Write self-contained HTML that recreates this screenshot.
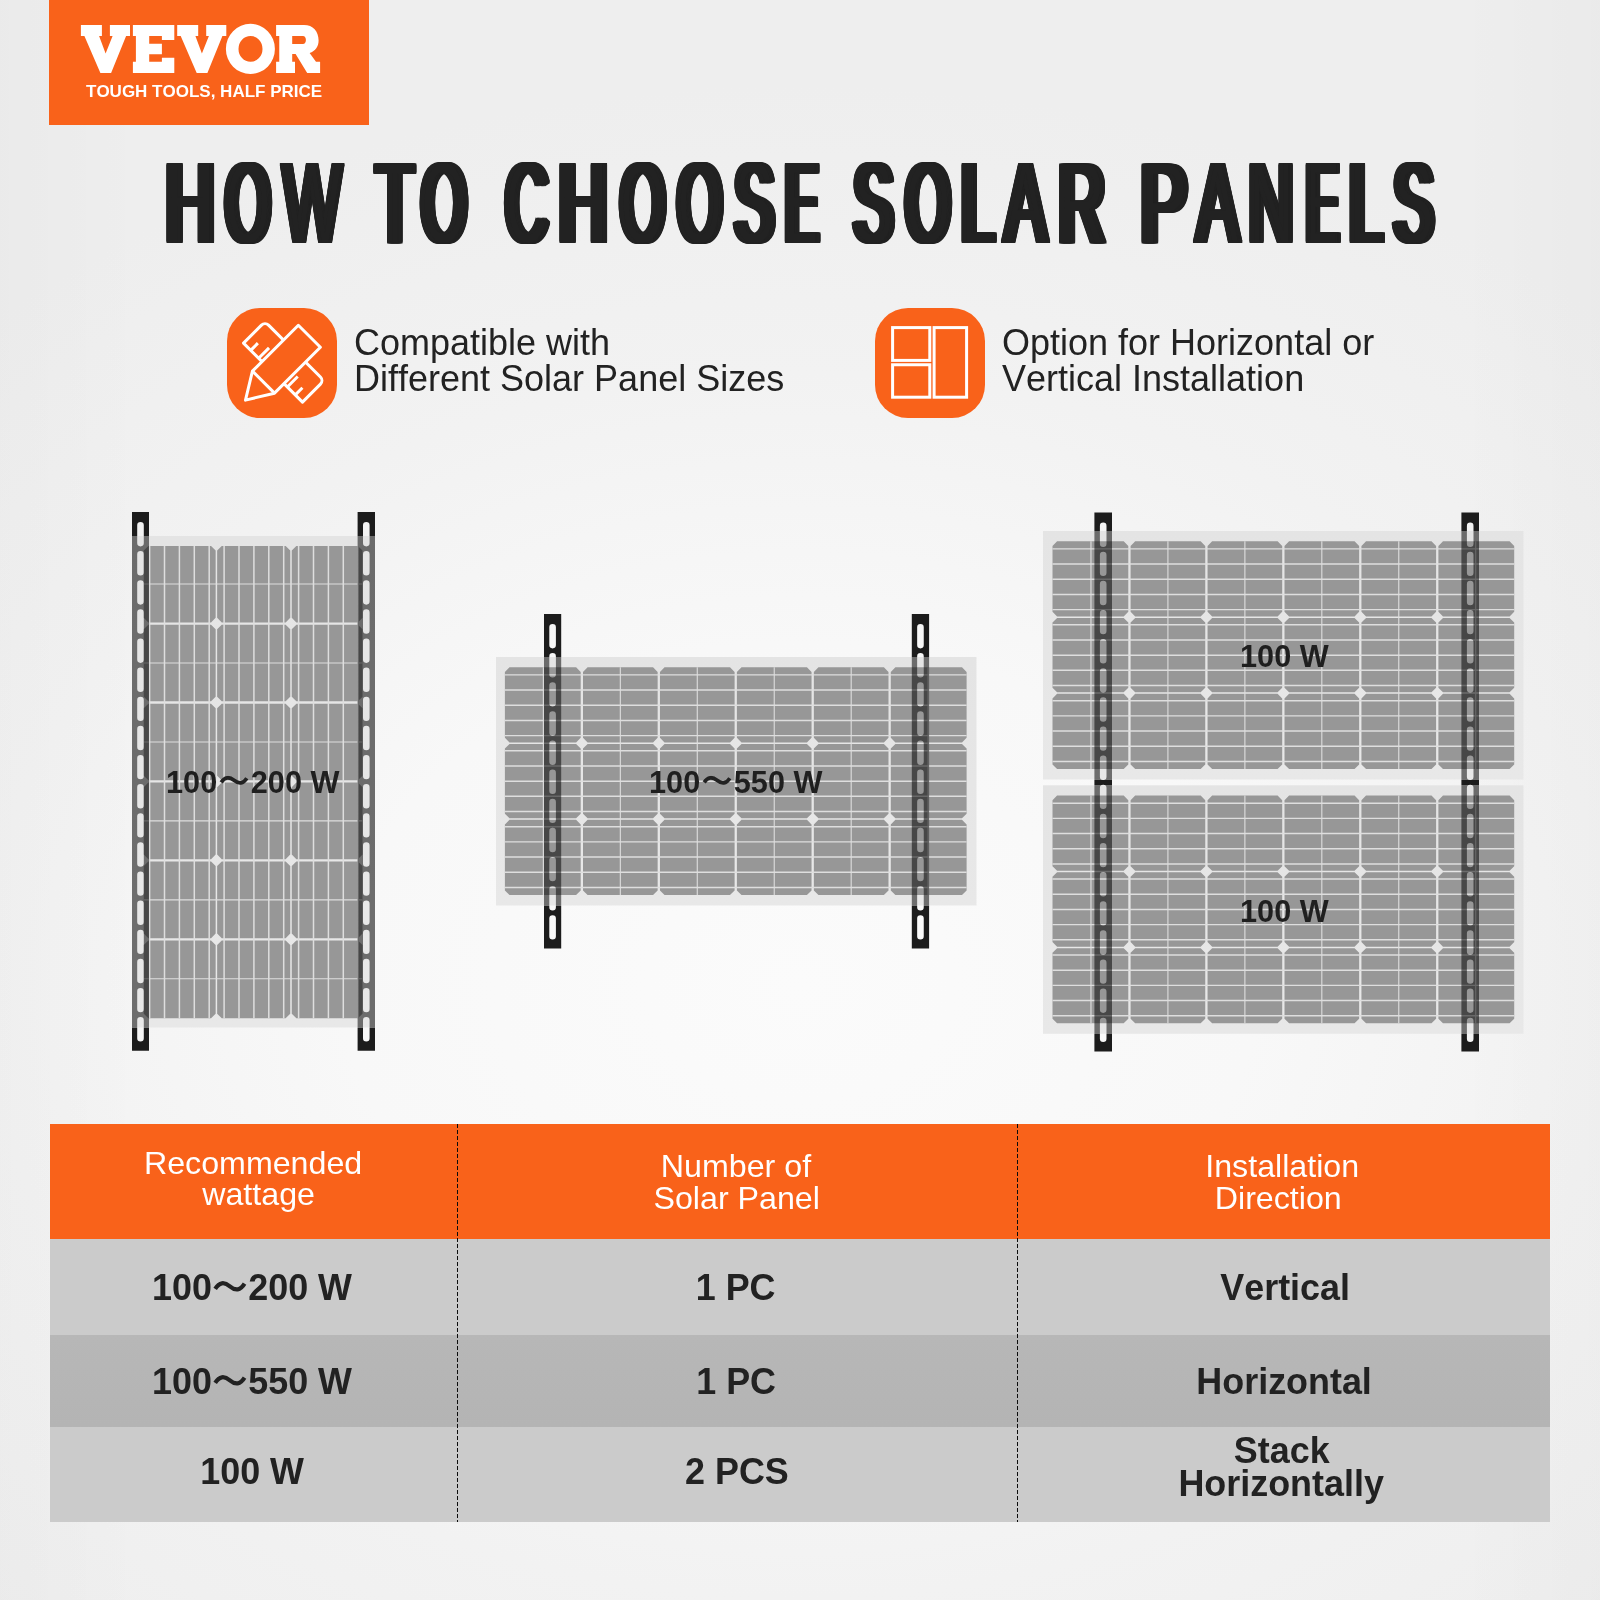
<!DOCTYPE html>
<html lang="en"><head><meta charset="utf-8"><title>How to choose solar panels</title>
<style>
*{box-sizing:border-box;margin:0;padding:0}
html,body{width:1600px;height:1600px;overflow:hidden}
body{position:relative;font-family:"Liberation Sans",sans-serif;color:#222;font-kerning:none;
 background:linear-gradient(to right,rgba(0,0,0,.016),rgba(0,0,0,0) 9%,rgba(0,0,0,0) 91%,rgba(0,0,0,.016)),radial-gradient(ellipse 1200px 900px at 800px 985px,#fbfbfb 0%,#f8f8f8 38%,#f2f2f2 68%,#eeeeee 100%)}
.logo{position:absolute;left:49px;top:0;width:320px;height:124.5px;background:#f9621a}
.logo svg{position:absolute;left:0;top:0}
.logo .tag{position:absolute;left:36.5px;top:82px;font-weight:bold;font-size:17px;line-height:20px;color:#fff;white-space:nowrap}
h1{position:absolute;left:0;top:0;width:1600px;height:0;font-weight:bold;font-size:117.4px;line-height:1;color:#222;white-space:pre}
h1 span{position:absolute;top:145.15px;transform-origin:0 0;display:block}
h1.t2{font-weight:normal;font-size:113.9px}
h1.t2 span{top:145.6px;text-shadow:calc(var(--k)*-1.000px) -1.00px 0 #222,calc(var(--k)*-1.000px) 0.00px 0 #222,calc(var(--k)*-1.000px) 1.00px 0 #222,calc(var(--k)*-0.750px) -1.00px 0 #222,calc(var(--k)*-0.750px) 0.00px 0 #222,calc(var(--k)*-0.750px) 1.00px 0 #222,calc(var(--k)*-0.500px) -1.00px 0 #222,calc(var(--k)*-0.500px) 0.00px 0 #222,calc(var(--k)*-0.500px) 1.00px 0 #222,calc(var(--k)*-0.250px) -1.00px 0 #222,calc(var(--k)*-0.250px) 0.00px 0 #222,calc(var(--k)*-0.250px) 1.00px 0 #222,calc(var(--k)*0.000px) -1.00px 0 #222,calc(var(--k)*0.000px) 1.00px 0 #222,calc(var(--k)*0.250px) -1.00px 0 #222,calc(var(--k)*0.250px) 0.00px 0 #222,calc(var(--k)*0.250px) 1.00px 0 #222,calc(var(--k)*0.500px) -1.00px 0 #222,calc(var(--k)*0.500px) 0.00px 0 #222,calc(var(--k)*0.500px) 1.00px 0 #222,calc(var(--k)*0.750px) -1.00px 0 #222,calc(var(--k)*0.750px) 0.00px 0 #222,calc(var(--k)*0.750px) 1.00px 0 #222,calc(var(--k)*1.000px) -1.00px 0 #222,calc(var(--k)*1.000px) 0.00px 0 #222,calc(var(--k)*1.000px) 1.00px 0 #222}
.feat{position:absolute;top:308px;height:110px}
.feat .ic{position:absolute;left:0;top:0;width:110px;height:110px;border-radius:33px;background:#f9621a}
.feat p{position:absolute;left:127.2px;top:17.75px;font-size:36px;line-height:34.95px;white-space:nowrap;color:#222;transform-origin:0 50%;transform:scaleY(1.03)}
.f1{left:227px}.f2{left:875px}
svg.diagram{position:absolute;left:0;top:0}
.feat p,.lbl,table,.logo .tag{will-change:transform}
.lbl{position:absolute;font-weight:bold;font-size:30.7px;line-height:36px;height:36px;white-space:nowrap;color:#1f1f1f;transform:scaleY(1.04);display:flex;align-items:center}
.tl{display:inline-block;flex:none}
table{position:absolute;left:50px;top:1123.8px;width:1500px;border-collapse:collapse;table-layout:fixed}
th{background:#f9621a;color:#fff;font-weight:normal;font-size:32.2px;line-height:32px;height:115.2px;text-align:center;vertical-align:middle;padding:0}
th span{display:block;position:relative}
td{font-weight:bold;font-size:35.9px;line-height:32.1px;text-align:center;vertical-align:middle;padding:0;color:#222}
tr.r1 td{height:95.4px;background:#cbcbcb}
tr.r2 td{height:92.2px;background:linear-gradient(#b7b7b7,#b4b4b4)}
tr.r3 td{height:95.4px;background:#cbcbcb}
.tb{display:inline-flex;align-items:center;position:relative;transform:scaleY(1.04)}
.tb.ml{display:inline-block}
.tb.ml span{display:block;position:relative}
.vline{position:absolute;top:1123.8px;height:398.2px;width:1.3px;background:repeating-linear-gradient(to bottom,#0c0c0c 0,#0c0c0c 3.7px,transparent 3.7px,transparent 6px)}
</style></head>
<body>
<div class="logo"><svg width="320" height="124.5" viewBox="49 0 320 124.5" role="img" aria-label="VEVOR">
<g fill="#fff">
<path id="lv" d="M80.9,24.9H101.9V36H99.1L105.6,53.4L112.6,36H109.9V24.9H130V36H126.1L111.1,73.1H100.4L84.4,36H80.9Z"/>
<path d="M132.9,24.9H174.3V40.1H161.9V36H149.2V43.7H161.9V54.2H149.2V61.7H161.9V57.75H174.3V73.1H132.9V61.7H135.9V36H132.9Z"/>
<use href="#lv" x="96.3"/>
<path fill-rule="evenodd" d="M250.4,23.8A24.5,25.1 0 1 0 250.4,74A24.5,25.1 0 1 0 250.4,23.8ZM250.5,36A12,12.9 0 1 1 250.5,61.8A12,12.9 0 1 1 250.5,36Z"/>
<path fill-rule="evenodd" d="M276.1,24.9H304C313,24.9 318.6,31 318.6,40.5C318.6,46.5 315.5,50.8 309.6,53.1L316,61.7H320.1V73.1H307.2L295.6,54H292.2V61.7H295V73.1H276.1V61.7H279.25V36H276.1ZM292.2,36H302.9C305,36 305.9,38 305.9,39.9C305.9,42 305,43.9 302.9,43.9H292.2Z"/>
</g></svg><div class="tag">TOUGH TOOLS, HALF PRICE</div></div>
<h1 class="t2"><span style="left:165.74px;transform:scaleX(0.5894);--k:8.483">H</span><span style="left:225.58px;transform:scaleX(0.4952);--k:10.097">O</span><span style="left:283.33px;transform:scaleX(0.5421);--k:6.640">W</span> <span style="left:376.94px;transform:scaleX(0.5124);--k:9.758">T</span><span style="left:422.31px;transform:scaleX(0.4984);--k:10.032">O</span> <span style="left:505.84px;transform:scaleX(0.5025);--k:9.949">C</span><span style="left:559.49px;transform:scaleX(0.5894);--k:8.483">H</span><span style="left:621.10px;transform:scaleX(0.4920);--k:10.163">O</span><span style="left:677.85px;transform:scaleX(0.4920);--k:10.163">O</span><span style="left:735.38px;transform:scaleX(0.5071);--k:9.860">S</span><span style="left:786.14px;transform:scaleX(0.4131);--k:12.104">E</span> <span style="left:854.36px;transform:scaleX(0.5109);--k:9.787">S</span><span style="left:905.58px;transform:scaleX(0.4952);--k:10.097">O</span><span style="left:962.35px;transform:scaleX(0.4978);--k:10.044">L</span><span style="left:1005.33px;transform:scaleX(0.5409);--k:7.765">A</span><span style="left:1059.32px;transform:scaleX(0.5545);--k:9.017">R</span> <span style="left:1141.34px;transform:scaleX(0.6062);--k:8.248">P</span><span style="left:1197.08px;transform:scaleX(0.5442);--k:7.718">A</span><span style="left:1249.38px;transform:scaleX(0.5375);--k:8.186">N</span><span style="left:1307.47px;transform:scaleX(0.4050);--k:12.347">E</span><span style="left:1349.55px;transform:scaleX(0.5028);--k:9.945">L</span><span style="left:1393.59px;transform:scaleX(0.5147);--k:9.714">S</span></h1>
<div class="feat f1"><div class="ic"><svg width="110" height="110" viewBox="227 308 110 110" aria-hidden="true">
<g transform="translate(283.75,361.85) rotate(45)" fill="#f9621a" stroke="#fff" stroke-width="3" stroke-linejoin="round" stroke-linecap="butt">
<path d="M-41.7,15.2V-10.2A5,5 0 0 1 -36.7,-15.2H36.7A5,5 0 0 1 41.7,-10.2V15.2Z"/>
<path d="M-31.5,15.2V5.1M31.5,15.2V5.1M-20.3,15.2V0.5M20.3,15.2V0.5" fill="none"/>
<path d="M-15.6,-36.2H15.6V28.7L0,54.1L-15.6,28.7Z"/>
<path d="M-15.6,28.7H15.6" fill="none"/>
</g></svg></div><p>Compatible with<br>Different Solar Panel Sizes</p></div>
<div class="feat f2"><div class="ic"><svg width="110" height="110" viewBox="875 308 110 110" aria-hidden="true">
<g fill="none" stroke="#fff" stroke-width="3">
<rect x="892.6" y="327.6" width="37.2" height="32.8"/>
<rect x="892.6" y="364.75" width="37.2" height="32.45"/>
<rect x="934.1" y="327.6" width="32.5" height="69.6"/>
</g></svg></div><p>Option for Horizontal or<br>Vertical Installation</p></div>
<svg class="diagram" width="1600" height="1600" viewBox="0 0 1600 1600"><defs><linearGradient id="frameg" x1="0" y1="0" x2="0" y2="1"><stop offset="0" stop-color="#e4e4e4"/><stop offset="1" stop-color="#e8e8e8"/></linearGradient><linearGradient id="b1" gradientUnits="userSpaceOnUse" x1="0" y1="512" x2="0" y2="1050.8"><stop offset="0.00000" stop-color="#1c1c1c" stop-opacity="1"/><stop offset="0.04454" stop-color="#1c1c1c" stop-opacity="1"/><stop offset="0.04454" stop-color="#000" stop-opacity="0.53"/><stop offset="0.95676" stop-color="#000" stop-opacity="0.53"/><stop offset="0.95676" stop-color="#1c1c1c" stop-opacity="1"/><stop offset="1.00000" stop-color="#1c1c1c" stop-opacity="1"/></linearGradient><linearGradient id="b2" gradientUnits="userSpaceOnUse" x1="0" y1="512" x2="0" y2="1050.8"><stop offset="0.00000" stop-color="#1c1c1c" stop-opacity="1"/><stop offset="0.04454" stop-color="#1c1c1c" stop-opacity="1"/><stop offset="0.04454" stop-color="#000" stop-opacity="0.53"/><stop offset="0.95676" stop-color="#000" stop-opacity="0.53"/><stop offset="0.95676" stop-color="#1c1c1c" stop-opacity="1"/><stop offset="1.00000" stop-color="#1c1c1c" stop-opacity="1"/></linearGradient><linearGradient id="b3" gradientUnits="userSpaceOnUse" x1="0" y1="614" x2="0" y2="948.6"><stop offset="0.00000" stop-color="#1c1c1c" stop-opacity="1"/><stop offset="0.12851" stop-color="#1c1c1c" stop-opacity="1"/><stop offset="0.12851" stop-color="#000" stop-opacity="0.53"/><stop offset="0.87119" stop-color="#000" stop-opacity="0.53"/><stop offset="0.87119" stop-color="#1c1c1c" stop-opacity="1"/><stop offset="1.00000" stop-color="#1c1c1c" stop-opacity="1"/></linearGradient><linearGradient id="b4" gradientUnits="userSpaceOnUse" x1="0" y1="614" x2="0" y2="948.6"><stop offset="0.00000" stop-color="#1c1c1c" stop-opacity="1"/><stop offset="0.12851" stop-color="#1c1c1c" stop-opacity="1"/><stop offset="0.12851" stop-color="#000" stop-opacity="0.53"/><stop offset="0.87119" stop-color="#000" stop-opacity="0.53"/><stop offset="0.87119" stop-color="#1c1c1c" stop-opacity="1"/><stop offset="1.00000" stop-color="#1c1c1c" stop-opacity="1"/></linearGradient><linearGradient id="b5" gradientUnits="userSpaceOnUse" x1="0" y1="512.6" x2="0" y2="1051.6"><stop offset="0.00000" stop-color="#1c1c1c" stop-opacity="1"/><stop offset="0.03414" stop-color="#1c1c1c" stop-opacity="1"/><stop offset="0.03414" stop-color="#000" stop-opacity="0.53"/><stop offset="0.49518" stop-color="#000" stop-opacity="0.53"/><stop offset="0.49518" stop-color="#1c1c1c" stop-opacity="1"/><stop offset="0.50594" stop-color="#1c1c1c" stop-opacity="1"/><stop offset="0.50594" stop-color="#000" stop-opacity="0.53"/><stop offset="0.96698" stop-color="#000" stop-opacity="0.53"/><stop offset="0.96698" stop-color="#1c1c1c" stop-opacity="1"/><stop offset="1.00000" stop-color="#1c1c1c" stop-opacity="1"/></linearGradient><linearGradient id="b6" gradientUnits="userSpaceOnUse" x1="0" y1="512.6" x2="0" y2="1051.6"><stop offset="0.00000" stop-color="#1c1c1c" stop-opacity="1"/><stop offset="0.03414" stop-color="#1c1c1c" stop-opacity="1"/><stop offset="0.03414" stop-color="#000" stop-opacity="0.53"/><stop offset="0.49518" stop-color="#000" stop-opacity="0.53"/><stop offset="0.49518" stop-color="#1c1c1c" stop-opacity="1"/><stop offset="0.50594" stop-color="#1c1c1c" stop-opacity="1"/><stop offset="0.50594" stop-color="#000" stop-opacity="0.53"/><stop offset="0.96698" stop-color="#000" stop-opacity="0.53"/><stop offset="0.96698" stop-color="#1c1c1c" stop-opacity="1"/><stop offset="1.00000" stop-color="#1c1c1c" stop-opacity="1"/></linearGradient></defs>
<rect x="132" y="536" width="243" height="491.5" fill="url(#frameg)"/>
<path d="M148.35,546.00 L211.05,546.00 L215.65,550.60 L215.65,617.79 L211.05,622.39 L148.35,622.39 L143.75,617.79 L143.75,550.60ZM148.35,624.69 L211.05,624.69 L215.65,629.29 L215.65,696.73 L211.05,701.33 L148.35,701.33 L143.75,696.73 L143.75,629.29ZM148.35,703.63 L211.05,703.63 L215.65,708.23 L215.65,775.67 L211.05,780.27 L148.35,780.27 L143.75,775.67 L143.75,708.23ZM148.35,782.57 L211.05,782.57 L215.65,787.17 L215.65,854.61 L211.05,859.21 L148.35,859.21 L143.75,854.61 L143.75,787.17ZM148.35,861.51 L211.05,861.51 L215.65,866.11 L215.65,933.55 L211.05,938.15 L148.35,938.15 L143.75,933.55 L143.75,866.11ZM148.35,940.45 L211.05,940.45 L215.65,945.05 L215.65,1013.64 L211.05,1018.24 L148.35,1018.24 L143.75,1013.64 L143.75,945.05ZM221.75,546.00 L285.65,546.00 L290.25,550.60 L290.25,617.79 L285.65,622.39 L221.75,622.39 L217.15,617.79 L217.15,550.60ZM221.75,624.69 L285.65,624.69 L290.25,629.29 L290.25,696.73 L285.65,701.33 L221.75,701.33 L217.15,696.73 L217.15,629.29ZM221.75,703.63 L285.65,703.63 L290.25,708.23 L290.25,775.67 L285.65,780.27 L221.75,780.27 L217.15,775.67 L217.15,708.23ZM221.75,782.57 L285.65,782.57 L290.25,787.17 L290.25,854.61 L285.65,859.21 L221.75,859.21 L217.15,854.61 L217.15,787.17ZM221.75,861.51 L285.65,861.51 L290.25,866.11 L290.25,933.55 L285.65,938.15 L221.75,938.15 L217.15,933.55 L217.15,866.11ZM221.75,940.45 L285.65,940.45 L290.25,945.05 L290.25,1013.64 L285.65,1018.24 L221.75,1018.24 L217.15,1013.64 L217.15,945.05ZM296.35,546.00 L357.90,546.00 L362.50,550.60 L362.50,617.79 L357.90,622.39 L296.35,622.39 L291.75,617.79 L291.75,550.60ZM296.35,624.69 L357.90,624.69 L362.50,629.29 L362.50,696.73 L357.90,701.33 L296.35,701.33 L291.75,696.73 L291.75,629.29ZM296.35,703.63 L357.90,703.63 L362.50,708.23 L362.50,775.67 L357.90,780.27 L296.35,780.27 L291.75,775.67 L291.75,708.23ZM296.35,782.57 L357.90,782.57 L362.50,787.17 L362.50,854.61 L357.90,859.21 L296.35,859.21 L291.75,854.61 L291.75,787.17ZM296.35,861.51 L357.90,861.51 L362.50,866.11 L362.50,933.55 L357.90,938.15 L296.35,938.15 L291.75,933.55 L291.75,866.11ZM296.35,940.45 L357.90,940.45 L362.50,945.05 L362.50,1013.64 L357.90,1018.24 L296.35,1018.24 L291.75,1013.64 L291.75,945.05Z" fill="#979797"/>
<path d="M149.60,546.00V1018.24M164.50,546.00V1018.24M179.40,546.00V1018.24M194.30,546.00V1018.24M209.20,546.00V1018.24M224.10,546.00V1018.24M239.00,546.00V1018.24M253.90,546.00V1018.24M268.80,546.00V1018.24M283.70,546.00V1018.24M298.60,546.00V1018.24M313.50,546.00V1018.24M328.40,546.00V1018.24M343.30,546.00V1018.24M358.20,546.00V1018.24" stroke="#dedede" stroke-width="1.5" fill="none"/>
<path d="M143.75,584.07H362.50M143.75,663.01H362.50M143.75,741.95H362.50M143.75,820.89H362.50M143.75,899.83H362.50M143.75,978.77H362.50" stroke="#dedede" stroke-width="1.1" fill="none"/>
<rect x="496" y="657" width="480.5" height="248.5" fill="url(#frameg)"/>
<path d="M509.50,667.30 L576.10,667.30 L580.70,671.90 L580.70,737.85 L576.10,742.45 L509.50,742.45 L504.90,737.85 L504.90,671.90ZM509.50,743.95 L576.10,743.95 L580.70,748.55 L580.70,813.75 L576.10,818.35 L509.50,818.35 L504.90,813.75 L504.90,748.55ZM509.50,819.85 L576.10,819.85 L580.70,824.45 L580.70,890.40 L576.10,895.00 L509.50,895.00 L504.90,890.40 L504.90,824.45ZM587.60,667.30 L653.05,667.30 L657.65,671.90 L657.65,737.85 L653.05,742.45 L587.60,742.45 L583.00,737.85 L583.00,671.90ZM587.60,743.95 L653.05,743.95 L657.65,748.55 L657.65,813.75 L653.05,818.35 L587.60,818.35 L583.00,813.75 L583.00,748.55ZM587.60,819.85 L653.05,819.85 L657.65,824.45 L657.65,890.40 L653.05,895.00 L587.60,895.00 L583.00,890.40 L583.00,824.45ZM664.55,667.30 L730.00,667.30 L734.60,671.90 L734.60,737.85 L730.00,742.45 L664.55,742.45 L659.95,737.85 L659.95,671.90ZM664.55,743.95 L730.00,743.95 L734.60,748.55 L734.60,813.75 L730.00,818.35 L664.55,818.35 L659.95,813.75 L659.95,748.55ZM664.55,819.85 L730.00,819.85 L734.60,824.45 L734.60,890.40 L730.00,895.00 L664.55,895.00 L659.95,890.40 L659.95,824.45ZM741.50,667.30 L806.95,667.30 L811.55,671.90 L811.55,737.85 L806.95,742.45 L741.50,742.45 L736.90,737.85 L736.90,671.90ZM741.50,743.95 L806.95,743.95 L811.55,748.55 L811.55,813.75 L806.95,818.35 L741.50,818.35 L736.90,813.75 L736.90,748.55ZM741.50,819.85 L806.95,819.85 L811.55,824.45 L811.55,890.40 L806.95,895.00 L741.50,895.00 L736.90,890.40 L736.90,824.45ZM818.45,667.30 L883.90,667.30 L888.50,671.90 L888.50,737.85 L883.90,742.45 L818.45,742.45 L813.85,737.85 L813.85,671.90ZM818.45,743.95 L883.90,743.95 L888.50,748.55 L888.50,813.75 L883.90,818.35 L818.45,818.35 L813.85,813.75 L813.85,748.55ZM818.45,819.85 L883.90,819.85 L888.50,824.45 L888.50,890.40 L883.90,895.00 L818.45,895.00 L813.85,890.40 L813.85,824.45ZM895.40,667.30 L962.00,667.30 L966.60,671.90 L966.60,737.85 L962.00,742.45 L895.40,742.45 L890.80,737.85 L890.80,671.90ZM895.40,743.95 L962.00,743.95 L966.60,748.55 L966.60,813.75 L962.00,818.35 L895.40,818.35 L890.80,813.75 L890.80,748.55ZM895.40,819.85 L962.00,819.85 L966.60,824.45 L966.60,890.40 L962.00,895.00 L895.40,895.00 L890.80,890.40 L890.80,824.45Z" fill="#979797"/>
<path d="M504.90,674.89H966.60M504.90,690.07H966.60M504.90,705.25H966.60M504.90,720.43H966.60M504.90,735.61H966.60M504.90,750.79H966.60M504.90,765.97H966.60M504.90,781.15H966.60M504.90,796.33H966.60M504.90,811.51H966.60M504.90,826.69H966.60M504.90,841.87H966.60M504.90,857.05H966.60M504.90,872.23H966.60M504.90,887.41H966.60" stroke="#dedede" stroke-width="1.45" fill="none"/>
<path d="M543.38,667.30V895.00M620.33,667.30V895.00M697.27,667.30V895.00M774.23,667.30V895.00M851.18,667.30V895.00M928.12,667.30V895.00" stroke="#dedede" stroke-width="1.1" fill="none"/>
<rect x="1043" y="531" width="480.5" height="248.5" fill="url(#frameg)"/>
<path d="M1057.10,541.30 L1123.70,541.30 L1128.30,545.90 L1128.30,611.85 L1123.70,616.45 L1057.10,616.45 L1052.50,611.85 L1052.50,545.90ZM1057.10,617.95 L1123.70,617.95 L1128.30,622.55 L1128.30,687.75 L1123.70,692.35 L1057.10,692.35 L1052.50,687.75 L1052.50,622.55ZM1057.10,693.85 L1123.70,693.85 L1128.30,698.45 L1128.30,764.40 L1123.70,769.00 L1057.10,769.00 L1052.50,764.40 L1052.50,698.45ZM1135.20,541.30 L1200.65,541.30 L1205.25,545.90 L1205.25,611.85 L1200.65,616.45 L1135.20,616.45 L1130.60,611.85 L1130.60,545.90ZM1135.20,617.95 L1200.65,617.95 L1205.25,622.55 L1205.25,687.75 L1200.65,692.35 L1135.20,692.35 L1130.60,687.75 L1130.60,622.55ZM1135.20,693.85 L1200.65,693.85 L1205.25,698.45 L1205.25,764.40 L1200.65,769.00 L1135.20,769.00 L1130.60,764.40 L1130.60,698.45ZM1212.15,541.30 L1277.60,541.30 L1282.20,545.90 L1282.20,611.85 L1277.60,616.45 L1212.15,616.45 L1207.55,611.85 L1207.55,545.90ZM1212.15,617.95 L1277.60,617.95 L1282.20,622.55 L1282.20,687.75 L1277.60,692.35 L1212.15,692.35 L1207.55,687.75 L1207.55,622.55ZM1212.15,693.85 L1277.60,693.85 L1282.20,698.45 L1282.20,764.40 L1277.60,769.00 L1212.15,769.00 L1207.55,764.40 L1207.55,698.45ZM1289.10,541.30 L1354.55,541.30 L1359.15,545.90 L1359.15,611.85 L1354.55,616.45 L1289.10,616.45 L1284.50,611.85 L1284.50,545.90ZM1289.10,617.95 L1354.55,617.95 L1359.15,622.55 L1359.15,687.75 L1354.55,692.35 L1289.10,692.35 L1284.50,687.75 L1284.50,622.55ZM1289.10,693.85 L1354.55,693.85 L1359.15,698.45 L1359.15,764.40 L1354.55,769.00 L1289.10,769.00 L1284.50,764.40 L1284.50,698.45ZM1366.05,541.30 L1431.50,541.30 L1436.10,545.90 L1436.10,611.85 L1431.50,616.45 L1366.05,616.45 L1361.45,611.85 L1361.45,545.90ZM1366.05,617.95 L1431.50,617.95 L1436.10,622.55 L1436.10,687.75 L1431.50,692.35 L1366.05,692.35 L1361.45,687.75 L1361.45,622.55ZM1366.05,693.85 L1431.50,693.85 L1436.10,698.45 L1436.10,764.40 L1431.50,769.00 L1366.05,769.00 L1361.45,764.40 L1361.45,698.45ZM1443.00,541.30 L1509.60,541.30 L1514.20,545.90 L1514.20,611.85 L1509.60,616.45 L1443.00,616.45 L1438.40,611.85 L1438.40,545.90ZM1443.00,617.95 L1509.60,617.95 L1514.20,622.55 L1514.20,687.75 L1509.60,692.35 L1443.00,692.35 L1438.40,687.75 L1438.40,622.55ZM1443.00,693.85 L1509.60,693.85 L1514.20,698.45 L1514.20,764.40 L1509.60,769.00 L1443.00,769.00 L1438.40,764.40 L1438.40,698.45Z" fill="#979797"/>
<path d="M1052.50,548.89H1514.20M1052.50,564.07H1514.20M1052.50,579.25H1514.20M1052.50,594.43H1514.20M1052.50,609.61H1514.20M1052.50,624.79H1514.20M1052.50,639.97H1514.20M1052.50,655.15H1514.20M1052.50,670.33H1514.20M1052.50,685.51H1514.20M1052.50,700.69H1514.20M1052.50,715.87H1514.20M1052.50,731.05H1514.20M1052.50,746.23H1514.20M1052.50,761.41H1514.20" stroke="#dedede" stroke-width="1.45" fill="none"/>
<path d="M1090.97,541.30V769.00M1167.92,541.30V769.00M1244.88,541.30V769.00M1321.82,541.30V769.00M1398.77,541.30V769.00M1475.72,541.30V769.00" stroke="#dedede" stroke-width="1.1" fill="none"/>
<rect x="1043" y="785.3" width="480.5" height="248.5" fill="url(#frameg)"/>
<path d="M1057.10,795.60 L1123.70,795.60 L1128.30,800.20 L1128.30,866.15 L1123.70,870.75 L1057.10,870.75 L1052.50,866.15 L1052.50,800.20ZM1057.10,872.25 L1123.70,872.25 L1128.30,876.85 L1128.30,942.05 L1123.70,946.65 L1057.10,946.65 L1052.50,942.05 L1052.50,876.85ZM1057.10,948.15 L1123.70,948.15 L1128.30,952.75 L1128.30,1018.70 L1123.70,1023.30 L1057.10,1023.30 L1052.50,1018.70 L1052.50,952.75ZM1135.20,795.60 L1200.65,795.60 L1205.25,800.20 L1205.25,866.15 L1200.65,870.75 L1135.20,870.75 L1130.60,866.15 L1130.60,800.20ZM1135.20,872.25 L1200.65,872.25 L1205.25,876.85 L1205.25,942.05 L1200.65,946.65 L1135.20,946.65 L1130.60,942.05 L1130.60,876.85ZM1135.20,948.15 L1200.65,948.15 L1205.25,952.75 L1205.25,1018.70 L1200.65,1023.30 L1135.20,1023.30 L1130.60,1018.70 L1130.60,952.75ZM1212.15,795.60 L1277.60,795.60 L1282.20,800.20 L1282.20,866.15 L1277.60,870.75 L1212.15,870.75 L1207.55,866.15 L1207.55,800.20ZM1212.15,872.25 L1277.60,872.25 L1282.20,876.85 L1282.20,942.05 L1277.60,946.65 L1212.15,946.65 L1207.55,942.05 L1207.55,876.85ZM1212.15,948.15 L1277.60,948.15 L1282.20,952.75 L1282.20,1018.70 L1277.60,1023.30 L1212.15,1023.30 L1207.55,1018.70 L1207.55,952.75ZM1289.10,795.60 L1354.55,795.60 L1359.15,800.20 L1359.15,866.15 L1354.55,870.75 L1289.10,870.75 L1284.50,866.15 L1284.50,800.20ZM1289.10,872.25 L1354.55,872.25 L1359.15,876.85 L1359.15,942.05 L1354.55,946.65 L1289.10,946.65 L1284.50,942.05 L1284.50,876.85ZM1289.10,948.15 L1354.55,948.15 L1359.15,952.75 L1359.15,1018.70 L1354.55,1023.30 L1289.10,1023.30 L1284.50,1018.70 L1284.50,952.75ZM1366.05,795.60 L1431.50,795.60 L1436.10,800.20 L1436.10,866.15 L1431.50,870.75 L1366.05,870.75 L1361.45,866.15 L1361.45,800.20ZM1366.05,872.25 L1431.50,872.25 L1436.10,876.85 L1436.10,942.05 L1431.50,946.65 L1366.05,946.65 L1361.45,942.05 L1361.45,876.85ZM1366.05,948.15 L1431.50,948.15 L1436.10,952.75 L1436.10,1018.70 L1431.50,1023.30 L1366.05,1023.30 L1361.45,1018.70 L1361.45,952.75ZM1443.00,795.60 L1509.60,795.60 L1514.20,800.20 L1514.20,866.15 L1509.60,870.75 L1443.00,870.75 L1438.40,866.15 L1438.40,800.20ZM1443.00,872.25 L1509.60,872.25 L1514.20,876.85 L1514.20,942.05 L1509.60,946.65 L1443.00,946.65 L1438.40,942.05 L1438.40,876.85ZM1443.00,948.15 L1509.60,948.15 L1514.20,952.75 L1514.20,1018.70 L1509.60,1023.30 L1443.00,1023.30 L1438.40,1018.70 L1438.40,952.75Z" fill="#979797"/>
<path d="M1052.50,803.19H1514.20M1052.50,818.37H1514.20M1052.50,833.55H1514.20M1052.50,848.73H1514.20M1052.50,863.91H1514.20M1052.50,879.09H1514.20M1052.50,894.27H1514.20M1052.50,909.45H1514.20M1052.50,924.63H1514.20M1052.50,939.81H1514.20M1052.50,954.99H1514.20M1052.50,970.17H1514.20M1052.50,985.35H1514.20M1052.50,1000.53H1514.20M1052.50,1015.71H1514.20" stroke="#dedede" stroke-width="1.45" fill="none"/>
<path d="M1090.97,795.60V1023.30M1167.92,795.60V1023.30M1244.88,795.60V1023.30M1321.82,795.60V1023.30M1398.77,795.60V1023.30M1475.72,795.60V1023.30" stroke="#dedede" stroke-width="1.1" fill="none"/>
<path d="M132.00,512.00H149.00V1050.80H132.00ZM137.20,525.30A3.30,3.30 0 0 1 143.80,525.30V543.10A3.30,3.30 0 0 1 137.20,543.10ZM137.20,554.42A3.30,3.30 0 0 1 143.80,554.42V572.22A3.30,3.30 0 0 1 137.20,572.22ZM137.20,583.54A3.30,3.30 0 0 1 143.80,583.54V601.34A3.30,3.30 0 0 1 137.20,601.34ZM137.20,612.66A3.30,3.30 0 0 1 143.80,612.66V630.46A3.30,3.30 0 0 1 137.20,630.46ZM137.20,641.78A3.30,3.30 0 0 1 143.80,641.78V659.58A3.30,3.30 0 0 1 137.20,659.58ZM137.20,670.90A3.30,3.30 0 0 1 143.80,670.90V688.70A3.30,3.30 0 0 1 137.20,688.70ZM137.20,700.02A3.30,3.30 0 0 1 143.80,700.02V717.82A3.30,3.30 0 0 1 137.20,717.82ZM137.20,729.14A3.30,3.30 0 0 1 143.80,729.14V746.94A3.30,3.30 0 0 1 137.20,746.94ZM137.20,758.26A3.30,3.30 0 0 1 143.80,758.26V776.06A3.30,3.30 0 0 1 137.20,776.06ZM137.20,787.38A3.30,3.30 0 0 1 143.80,787.38V805.18A3.30,3.30 0 0 1 137.20,805.18ZM137.20,816.50A3.30,3.30 0 0 1 143.80,816.50V834.30A3.30,3.30 0 0 1 137.20,834.30ZM137.20,845.62A3.30,3.30 0 0 1 143.80,845.62V863.42A3.30,3.30 0 0 1 137.20,863.42ZM137.20,874.74A3.30,3.30 0 0 1 143.80,874.74V892.54A3.30,3.30 0 0 1 137.20,892.54ZM137.20,903.86A3.30,3.30 0 0 1 143.80,903.86V921.66A3.30,3.30 0 0 1 137.20,921.66ZM137.20,932.98A3.30,3.30 0 0 1 143.80,932.98V950.78A3.30,3.30 0 0 1 137.20,950.78ZM137.20,962.10A3.30,3.30 0 0 1 143.80,962.10V979.90A3.30,3.30 0 0 1 137.20,979.90ZM137.20,991.22A3.30,3.30 0 0 1 143.80,991.22V1009.02A3.30,3.30 0 0 1 137.20,1009.02ZM137.20,1020.34A3.30,3.30 0 0 1 143.80,1020.34V1038.14A3.30,3.30 0 0 1 137.20,1038.14Z" fill="url(#b1)" fill-rule="evenodd"/>
<path d="M357.60,512.00H375.00V1050.80H357.60ZM363.00,525.30A3.30,3.30 0 0 1 369.60,525.30V543.10A3.30,3.30 0 0 1 363.00,543.10ZM363.00,554.42A3.30,3.30 0 0 1 369.60,554.42V572.22A3.30,3.30 0 0 1 363.00,572.22ZM363.00,583.54A3.30,3.30 0 0 1 369.60,583.54V601.34A3.30,3.30 0 0 1 363.00,601.34ZM363.00,612.66A3.30,3.30 0 0 1 369.60,612.66V630.46A3.30,3.30 0 0 1 363.00,630.46ZM363.00,641.78A3.30,3.30 0 0 1 369.60,641.78V659.58A3.30,3.30 0 0 1 363.00,659.58ZM363.00,670.90A3.30,3.30 0 0 1 369.60,670.90V688.70A3.30,3.30 0 0 1 363.00,688.70ZM363.00,700.02A3.30,3.30 0 0 1 369.60,700.02V717.82A3.30,3.30 0 0 1 363.00,717.82ZM363.00,729.14A3.30,3.30 0 0 1 369.60,729.14V746.94A3.30,3.30 0 0 1 363.00,746.94ZM363.00,758.26A3.30,3.30 0 0 1 369.60,758.26V776.06A3.30,3.30 0 0 1 363.00,776.06ZM363.00,787.38A3.30,3.30 0 0 1 369.60,787.38V805.18A3.30,3.30 0 0 1 363.00,805.18ZM363.00,816.50A3.30,3.30 0 0 1 369.60,816.50V834.30A3.30,3.30 0 0 1 363.00,834.30ZM363.00,845.62A3.30,3.30 0 0 1 369.60,845.62V863.42A3.30,3.30 0 0 1 363.00,863.42ZM363.00,874.74A3.30,3.30 0 0 1 369.60,874.74V892.54A3.30,3.30 0 0 1 363.00,892.54ZM363.00,903.86A3.30,3.30 0 0 1 369.60,903.86V921.66A3.30,3.30 0 0 1 363.00,921.66ZM363.00,932.98A3.30,3.30 0 0 1 369.60,932.98V950.78A3.30,3.30 0 0 1 363.00,950.78ZM363.00,962.10A3.30,3.30 0 0 1 369.60,962.10V979.90A3.30,3.30 0 0 1 363.00,979.90ZM363.00,991.22A3.30,3.30 0 0 1 369.60,991.22V1009.02A3.30,3.30 0 0 1 363.00,1009.02ZM363.00,1020.34A3.30,3.30 0 0 1 369.60,1020.34V1038.14A3.30,3.30 0 0 1 363.00,1038.14Z" fill="url(#b2)" fill-rule="evenodd"/>
<path d="M544.00,614.00H561.20V948.60H544.00ZM549.30,627.30A3.30,3.30 0 0 1 555.90,627.30V645.10A3.30,3.30 0 0 1 549.30,645.10ZM549.30,656.42A3.30,3.30 0 0 1 555.90,656.42V674.22A3.30,3.30 0 0 1 549.30,674.22ZM549.30,685.54A3.30,3.30 0 0 1 555.90,685.54V703.34A3.30,3.30 0 0 1 549.30,703.34ZM549.30,714.66A3.30,3.30 0 0 1 555.90,714.66V732.46A3.30,3.30 0 0 1 549.30,732.46ZM549.30,743.78A3.30,3.30 0 0 1 555.90,743.78V761.58A3.30,3.30 0 0 1 549.30,761.58ZM549.30,772.90A3.30,3.30 0 0 1 555.90,772.90V790.70A3.30,3.30 0 0 1 549.30,790.70ZM549.30,802.02A3.30,3.30 0 0 1 555.90,802.02V819.82A3.30,3.30 0 0 1 549.30,819.82ZM549.30,831.14A3.30,3.30 0 0 1 555.90,831.14V848.94A3.30,3.30 0 0 1 549.30,848.94ZM549.30,860.26A3.30,3.30 0 0 1 555.90,860.26V878.06A3.30,3.30 0 0 1 549.30,878.06ZM549.30,889.38A3.30,3.30 0 0 1 555.90,889.38V907.18A3.30,3.30 0 0 1 549.30,907.18ZM549.30,918.50A3.30,3.30 0 0 1 555.90,918.50V936.30A3.30,3.30 0 0 1 549.30,936.30Z" fill="url(#b3)" fill-rule="evenodd"/>
<path d="M911.80,614.00H929.10V948.60H911.80ZM917.15,627.30A3.30,3.30 0 0 1 923.75,627.30V645.10A3.30,3.30 0 0 1 917.15,645.10ZM917.15,656.42A3.30,3.30 0 0 1 923.75,656.42V674.22A3.30,3.30 0 0 1 917.15,674.22ZM917.15,685.54A3.30,3.30 0 0 1 923.75,685.54V703.34A3.30,3.30 0 0 1 917.15,703.34ZM917.15,714.66A3.30,3.30 0 0 1 923.75,714.66V732.46A3.30,3.30 0 0 1 917.15,732.46ZM917.15,743.78A3.30,3.30 0 0 1 923.75,743.78V761.58A3.30,3.30 0 0 1 917.15,761.58ZM917.15,772.90A3.30,3.30 0 0 1 923.75,772.90V790.70A3.30,3.30 0 0 1 917.15,790.70ZM917.15,802.02A3.30,3.30 0 0 1 923.75,802.02V819.82A3.30,3.30 0 0 1 917.15,819.82ZM917.15,831.14A3.30,3.30 0 0 1 923.75,831.14V848.94A3.30,3.30 0 0 1 917.15,848.94ZM917.15,860.26A3.30,3.30 0 0 1 923.75,860.26V878.06A3.30,3.30 0 0 1 917.15,878.06ZM917.15,889.38A3.30,3.30 0 0 1 923.75,889.38V907.18A3.30,3.30 0 0 1 917.15,907.18ZM917.15,918.50A3.30,3.30 0 0 1 923.75,918.50V936.30A3.30,3.30 0 0 1 917.15,936.30Z" fill="url(#b4)" fill-rule="evenodd"/>
<path d="M1094.40,512.60H1112.00V1051.60H1094.40ZM1099.90,525.90A3.30,3.30 0 0 1 1106.50,525.90V543.70A3.30,3.30 0 0 1 1099.90,543.70ZM1099.90,555.02A3.30,3.30 0 0 1 1106.50,555.02V572.82A3.30,3.30 0 0 1 1099.90,572.82ZM1099.90,584.14A3.30,3.30 0 0 1 1106.50,584.14V601.94A3.30,3.30 0 0 1 1099.90,601.94ZM1099.90,613.26A3.30,3.30 0 0 1 1106.50,613.26V631.06A3.30,3.30 0 0 1 1099.90,631.06ZM1099.90,642.38A3.30,3.30 0 0 1 1106.50,642.38V660.18A3.30,3.30 0 0 1 1099.90,660.18ZM1099.90,671.50A3.30,3.30 0 0 1 1106.50,671.50V689.30A3.30,3.30 0 0 1 1099.90,689.30ZM1099.90,700.62A3.30,3.30 0 0 1 1106.50,700.62V718.42A3.30,3.30 0 0 1 1099.90,718.42ZM1099.90,729.74A3.30,3.30 0 0 1 1106.50,729.74V747.54A3.30,3.30 0 0 1 1099.90,747.54ZM1099.90,758.86A3.30,3.30 0 0 1 1106.50,758.86V776.66A3.30,3.30 0 0 1 1099.90,776.66ZM1099.90,787.98A3.30,3.30 0 0 1 1106.50,787.98V805.78A3.30,3.30 0 0 1 1099.90,805.78ZM1099.90,817.10A3.30,3.30 0 0 1 1106.50,817.10V834.90A3.30,3.30 0 0 1 1099.90,834.90ZM1099.90,846.22A3.30,3.30 0 0 1 1106.50,846.22V864.02A3.30,3.30 0 0 1 1099.90,864.02ZM1099.90,875.34A3.30,3.30 0 0 1 1106.50,875.34V893.14A3.30,3.30 0 0 1 1099.90,893.14ZM1099.90,904.46A3.30,3.30 0 0 1 1106.50,904.46V922.26A3.30,3.30 0 0 1 1099.90,922.26ZM1099.90,933.58A3.30,3.30 0 0 1 1106.50,933.58V951.38A3.30,3.30 0 0 1 1099.90,951.38ZM1099.90,962.70A3.30,3.30 0 0 1 1106.50,962.70V980.50A3.30,3.30 0 0 1 1099.90,980.50ZM1099.90,991.82A3.30,3.30 0 0 1 1106.50,991.82V1009.62A3.30,3.30 0 0 1 1099.90,1009.62ZM1099.90,1020.94A3.30,3.30 0 0 1 1106.50,1020.94V1038.74A3.30,3.30 0 0 1 1099.90,1038.74Z" fill="url(#b5)" fill-rule="evenodd"/>
<path d="M1461.40,512.60H1479.00V1051.60H1461.40ZM1466.90,525.90A3.30,3.30 0 0 1 1473.50,525.90V543.70A3.30,3.30 0 0 1 1466.90,543.70ZM1466.90,555.02A3.30,3.30 0 0 1 1473.50,555.02V572.82A3.30,3.30 0 0 1 1466.90,572.82ZM1466.90,584.14A3.30,3.30 0 0 1 1473.50,584.14V601.94A3.30,3.30 0 0 1 1466.90,601.94ZM1466.90,613.26A3.30,3.30 0 0 1 1473.50,613.26V631.06A3.30,3.30 0 0 1 1466.90,631.06ZM1466.90,642.38A3.30,3.30 0 0 1 1473.50,642.38V660.18A3.30,3.30 0 0 1 1466.90,660.18ZM1466.90,671.50A3.30,3.30 0 0 1 1473.50,671.50V689.30A3.30,3.30 0 0 1 1466.90,689.30ZM1466.90,700.62A3.30,3.30 0 0 1 1473.50,700.62V718.42A3.30,3.30 0 0 1 1466.90,718.42ZM1466.90,729.74A3.30,3.30 0 0 1 1473.50,729.74V747.54A3.30,3.30 0 0 1 1466.90,747.54ZM1466.90,758.86A3.30,3.30 0 0 1 1473.50,758.86V776.66A3.30,3.30 0 0 1 1466.90,776.66ZM1466.90,787.98A3.30,3.30 0 0 1 1473.50,787.98V805.78A3.30,3.30 0 0 1 1466.90,805.78ZM1466.90,817.10A3.30,3.30 0 0 1 1473.50,817.10V834.90A3.30,3.30 0 0 1 1466.90,834.90ZM1466.90,846.22A3.30,3.30 0 0 1 1473.50,846.22V864.02A3.30,3.30 0 0 1 1466.90,864.02ZM1466.90,875.34A3.30,3.30 0 0 1 1473.50,875.34V893.14A3.30,3.30 0 0 1 1466.90,893.14ZM1466.90,904.46A3.30,3.30 0 0 1 1473.50,904.46V922.26A3.30,3.30 0 0 1 1466.90,922.26ZM1466.90,933.58A3.30,3.30 0 0 1 1473.50,933.58V951.38A3.30,3.30 0 0 1 1466.90,951.38ZM1466.90,962.70A3.30,3.30 0 0 1 1473.50,962.70V980.50A3.30,3.30 0 0 1 1466.90,980.50ZM1466.90,991.82A3.30,3.30 0 0 1 1473.50,991.82V1009.62A3.30,3.30 0 0 1 1466.90,1009.62ZM1466.90,1020.94A3.30,3.30 0 0 1 1473.50,1020.94V1038.74A3.30,3.30 0 0 1 1466.90,1038.74Z" fill="url(#b6)" fill-rule="evenodd"/>
</svg>
<div class="lbl" style="left:165.60px;top:764.70px">100<svg class="tl" width="33.6" height="9.8" viewBox="0 0 32 12" preserveAspectRatio="none" aria-hidden="true" style="position:relative;top:-2.5px"><path d="M4.00,7.9 C7.37,1.3 11.64,0.9 16.20,5.4 C20.76,9.9 25.03,9.5 28.40,2.9" fill="none" stroke="#222" stroke-width="3.7" vector-effect="non-scaling-stroke"/></svg>200 W</div>
<div class="lbl" style="left:648.64px;top:764.92px">100<svg class="tl" width="33.6" height="9.8" viewBox="0 0 32 12" preserveAspectRatio="none" aria-hidden="true" style="position:relative;top:-2.5px"><path d="M4.00,7.9 C7.37,1.3 11.64,0.9 16.20,5.4 C20.76,9.9 25.03,9.5 28.40,2.9" fill="none" stroke="#222" stroke-width="3.7" vector-effect="non-scaling-stroke"/></svg>550 W</div>
<div class="lbl" style="left:1240.24px;top:639.21px">100 W</div>
<div class="lbl" style="left:1240.24px;top:893.92px">100 W</div>
<table>
<colgroup><col style="width:407.4px"><col style="width:560.1px"><col style="width:532.5px"></colgroup>
<tr><th><span style="left:-0.60px;top:-3.00px">Recommended</span><span style="left:4.90px;top:-3.40px">wattage</span></th><th><span style="left:-1.46px;top:0.60px">Number of</span><span style="left:-0.74px;top:0.00px">Solar Panel</span></th><th><span style="left:-1.56px;top:0.60px">Installation</span><span style="left:-5.50px;top:0.00px">Direction</span></th></tr>
<tr class="r1"><td><span class="tb" style="left:-1.70px;top:1.32px">100<svg class="tl" width="36.3" height="12" viewBox="0 0 32 12" preserveAspectRatio="none" aria-hidden="true" style="position:relative;top:-1.1px"><path d="M2.80,7.9 C6.37,1.3 10.91,0.9 15.75,5.4 C20.59,9.9 25.13,9.5 28.70,2.9" fill="none" stroke="#222" stroke-width="4.1" vector-effect="non-scaling-stroke"/></svg>200 W</span></td><td><span class="tb" style="left:-1.80px;top:0.96px">1 PC</span></td><td><span class="tb" style="left:1.40px;top:0.74px">Vertical</span></td></tr>
<tr class="r2"><td><span class="tb" style="left:-1.70px;top:1.20px">100<svg class="tl" width="36.3" height="12" viewBox="0 0 32 12" preserveAspectRatio="none" aria-hidden="true" style="position:relative;top:-1.1px"><path d="M2.80,7.9 C6.37,1.3 10.91,0.9 15.75,5.4 C20.59,9.9 25.13,9.5 28.70,2.9" fill="none" stroke="#222" stroke-width="4.1" vector-effect="non-scaling-stroke"/></svg>550 W</span></td><td><span class="tb" style="left:-1.30px;top:1.56px">1 PC</span></td><td><span class="tb" style="left:0.36px;top:1.32px">Horizontal</span></td></tr>
<tr class="r3"><td><span class="tb" style="left:-1.60px;top:-2.88px">100 W</span></td><td><span class="tb" style="left:-0.50px;top:-2.15px">2 PCS</span></td><td><span class="tb ml"><span style="left:-2.00px;top:-6.74px">Stack</span><span style="left:-2.60px;top:-7.46px">Horizontally</span></span></td></tr>
</table>
<div class="vline" style="left:456.75px"></div><div class="vline" style="left:1016.85px"></div>
</body></html>
